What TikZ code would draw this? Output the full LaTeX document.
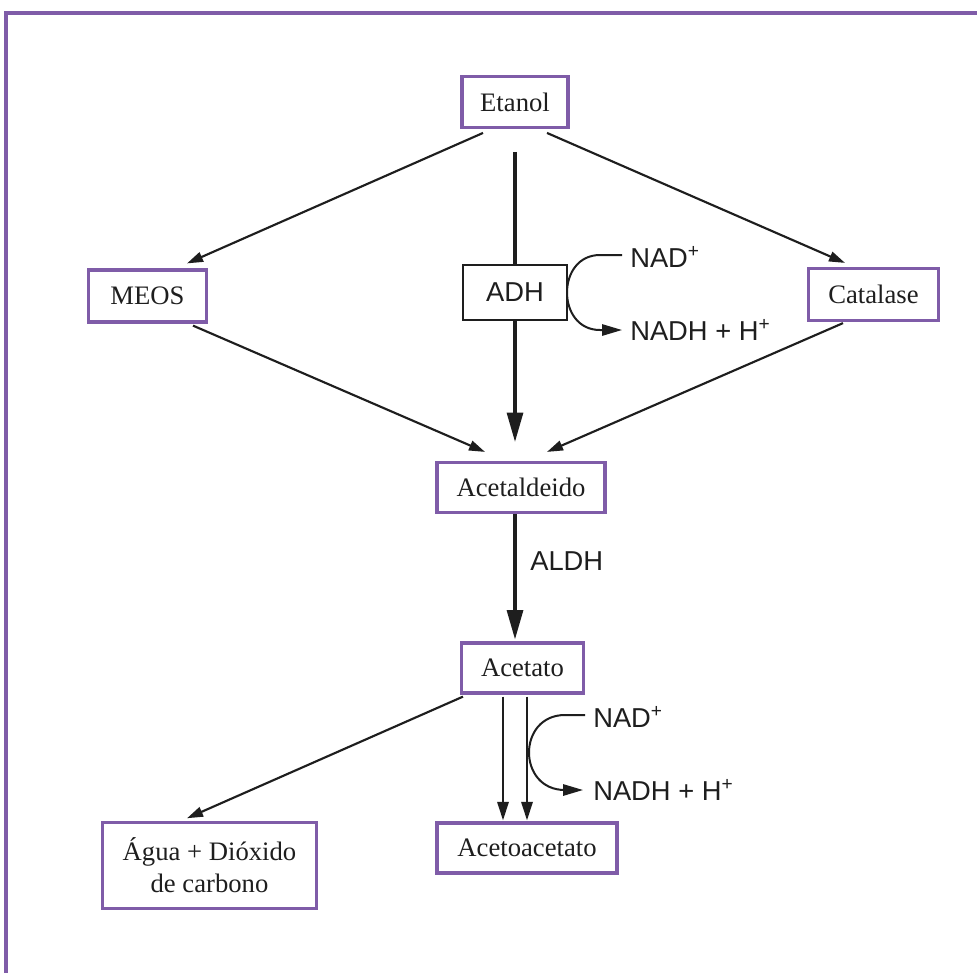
\documentclass[tikz,border=0pt]{standalone}
\usepackage{fontspec}
\setmainfont{Liberation Serif}
\newfontfamily\labelsans{Liberation Sans}
\usetikzlibrary{arrows.meta,calc}
\definecolor{boxpurple}{RGB}{127,92,168}
\definecolor{ink}{RGB}{30,30,30}
\begin{document}
\begin{tikzpicture}[x=0.75pt,y=-0.75pt,
 box/.style={draw=boxpurple,line width=2.4pt,fill=white,inner sep=0pt,text=ink,font=\fontsize{20}{24}\selectfont,align=center},
 enz/.style={draw=ink,line width=1.3pt,fill=white,inner sep=0pt,text=ink,font=\labelsans\fontsize{20.5}{24}\selectfont},
 lab/.style={inner sep=0pt,anchor=west,font=\labelsans\fontsize{20.5}{24}\selectfont,text=ink},
 conn/.style={draw=ink,line width=1.6pt,-{Triangle[length=12pt,width=7.5pt]}},
 bigconn/.style={draw=ink,line width=2.3pt,-{Triangle[length=22pt,width=12pt]}},
 midconn/.style={draw=ink,line width=1.7pt,-{Triangle[length=14pt,width=8.5pt]}},
 curve/.style={draw=ink,line width=1.5pt,-{Triangle[length=15pt,width=8.5pt]}},
 ]
\useasboundingbox (0,0) rectangle (977,972);
\fill[white] (0,0) rectangle (977,972);
\draw[boxpurple,line width=2.6pt] (1000,13) -- (6,13) -- (6,1000);

\node[box,minimum width=79.5pt,minimum height=38pt] (etanol) at (515,102) {Etanol};
\node[box,minimum width=89pt,minimum height=39pt] (meos) at (147.5,296) {MEOS};
\node[enz,minimum width=78pt,minimum height=41pt] (adh) at (515,292.5) {ADH};
\node[box,minimum width=98pt,minimum height=39pt] (catalase) at (873.5,294.5) {Catalase};
\node[box,minimum width=126pt,minimum height=37.5pt] (acetald) at (521,487.5) {Acetaldeido};
\node[box,minimum width=91pt,minimum height=37.5pt] (acetato) at (522.5,668) {Acetato};
\node[box,minimum width=135pt,minimum height=37.5pt] (acetoac) at (527,848) {Acetoacetato};
\node[box,minimum width=161pt,minimum height=64pt] (agua) at (209.5,865.5) {Água + Dióxido\\de carbono};

\node[lab] (aldh) at (530,561) {ALDH};
\node[lab] (nadA) at (630,257) {NAD\textsuperscript{+}};
\node[lab] (nadhA) at (630,330) {NADH + H\textsuperscript{+}};
\node[lab] (nadB) at (593,717) {NAD\textsuperscript{+}};
\node[lab] (nadhB) at (593,790) {NADH + H\textsuperscript{+}};

\draw[conn] ($(etanol.south)+(-32,4)$) -- ($(meos.north)+(39.5,-5)$);
\draw[conn] ($(etanol.south)+(32,4)$) -- ($(catalase.north)+(-28.5,-4)$);
\draw[draw=ink,line width=2.3pt] ($(etanol.south)+(0,23)$) -- (adh.north);
\draw[bigconn] (adh.south) -- ($(acetald.north)+(-6,-19)$);
\draw[conn] ($(meos.south)+(45.5,2)$) -- ($(acetald.north)+(-36,-9)$);
\draw[conn] ($(catalase.south)+(-30.5,1)$) -- ($(acetald.north)+(26,-9)$);
\draw[bigconn] ($(acetald.south)+(-6,0)$) -- ($(acetato.north)+(-7.5,-2)$);
\draw[conn] ($(acetato.south)+(-59.5,2)$) -- ($(agua.north)+(-22.5,-3)$);
\draw[midconn] ($(acetato.south)+(-19.5,2)$) -- ($(acetoac.north)+(-24,-1)$);
\draw[midconn] ($(acetato.south)+(4.5,2)$) -- ($(acetoac.north)+(0,-1)$);

\draw[curve] ($(nadA.west)+(-8,-2)$) -- (600,255) .. controls (556,255) and (556,330) .. (600,330) -- ($(nadhA.west)+(-8,0)$);
\draw[curve] ($(nadB.west)+(-8,-2)$) -- (565,715) .. controls (517,715) and (517,790) .. (565,790) -- ($(nadhB.west)+(-10,0)$);
\end{tikzpicture}
\end{document}
